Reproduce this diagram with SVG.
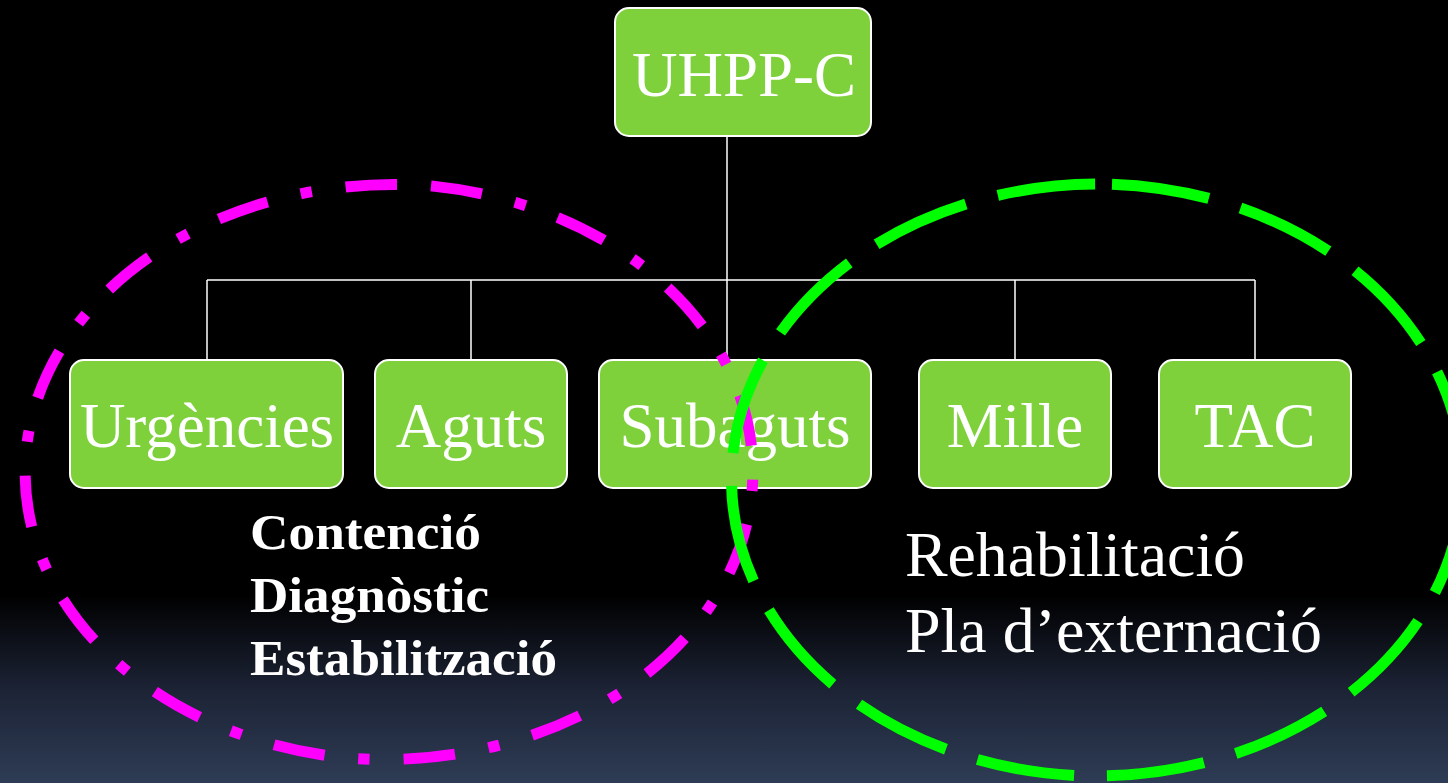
<svg xmlns="http://www.w3.org/2000/svg" width="1448" height="783" viewBox="0 0 1448 783">
<defs>
<linearGradient id="bg" x1="0" y1="0" x2="0" y2="1">
<stop offset="0" stop-color="#000"/>
<stop offset="0.76" stop-color="#000"/>
<stop offset="0.88" stop-color="#1c2335"/>
<stop offset="1" stop-color="#2e3c55"/>
</linearGradient>
<style>
.box{fill:#7fd13b;stroke:#fff;stroke-width:2}
.lbl{font-family:"Liberation Serif","Times New Roman",serif;font-size:63px;fill:#fff;text-anchor:middle}
.conn{stroke:#fff;stroke-width:1.5;fill:none}
.bold{font-family:"Liberation Serif","Times New Roman",serif;font-size:50px;font-weight:bold;fill:#fff}
.reg{font-family:"Liberation Serif","Times New Roman",serif;font-size:63px;fill:#fff}
.ring{fill:none;stroke-width:11}
</style>
</defs>
<rect x="0" y="0" width="1448" height="783" fill="url(#bg)"/>
<g id="connectors">
<path class="conn" d="M727 136 V360 M207 280 H1255 M207 280 V360 M471 280 V360 M1015 280 V360 M1255 280 V360"/>
</g>
<g id="n-uhppc"><rect class="box" x="615" y="8" width="256" height="128" rx="14"/><text class="lbl" x="744" y="96">UHPP-C</text></g>
<g id="n-urgencies"><rect class="box" x="70" y="360" width="273" height="128" rx="14"/><text class="lbl" x="207" y="447">Urgències</text></g>
<g id="n-aguts"><rect class="box" x="375" y="360" width="192" height="128" rx="14"/><text class="lbl" x="471" y="447">Aguts</text></g>
<g id="n-subaguts"><rect class="box" x="599" y="360" width="272" height="128" rx="14"/><text class="lbl" x="735" y="447">Subaguts</text></g>
<g id="n-mille"><rect class="box" x="919" y="360" width="192" height="128" rx="14"/><text class="lbl" x="1015" y="447">Mille</text></g>
<g id="n-tac"><rect class="box" x="1159" y="360" width="192" height="128" rx="14"/><text class="lbl" x="1255" y="447">TAC</text></g>
<g id="left-text">
<text class="bold" x="250" y="549" textLength="231" lengthAdjust="spacingAndGlyphs">Contenció</text>
<text class="bold" x="250" y="612" textLength="239" lengthAdjust="spacingAndGlyphs">Diagnòstic</text>
<text class="bold" x="250" y="675" textLength="307" lengthAdjust="spacingAndGlyphs">Estabilització</text>
</g>
<g id="right-text">
<text class="reg" x="905" y="576" textLength="340" lengthAdjust="spacingAndGlyphs">Rehabilitació</text>
<text class="reg" x="905" y="652" textLength="417" lengthAdjust="spacingAndGlyphs">Pla d’externació</text>
</g>
<g id="groups">
<path id="ring-magenta" class="ring" stroke="#ff00ff" pathLength="1988" d="M431 185.9 A369 288 0 0 1 347 758.1 A369 288 0 0 1 431 185.9" stroke-dasharray="50 33 11 33 50 33 11 33 50 33 11 33 50 33 11 33 50 33 11 33 50 33 11 33 50 33 11 33 50 33 11 33 50 33 11 33 50 33 11 33 50 33 11 33 50 33 11 33 50 33 11 33 50 33 11 33 50 33 11 33 50 33"/>
<path id="ring-green" class="ring" stroke="#00ff00" pathLength="2080" d="M1112 184.25 A367 296 0 0 1 1082 775.75 A367 296 0 0 1 1112 184.25" stroke-dasharray="98 33 98 33 98 33 98 33 98 33 98 33 98 33 98 33 98 33 98 33 98 33 98 33 98 33 98 33 98 33 98 17"/>
</g>
</svg>
